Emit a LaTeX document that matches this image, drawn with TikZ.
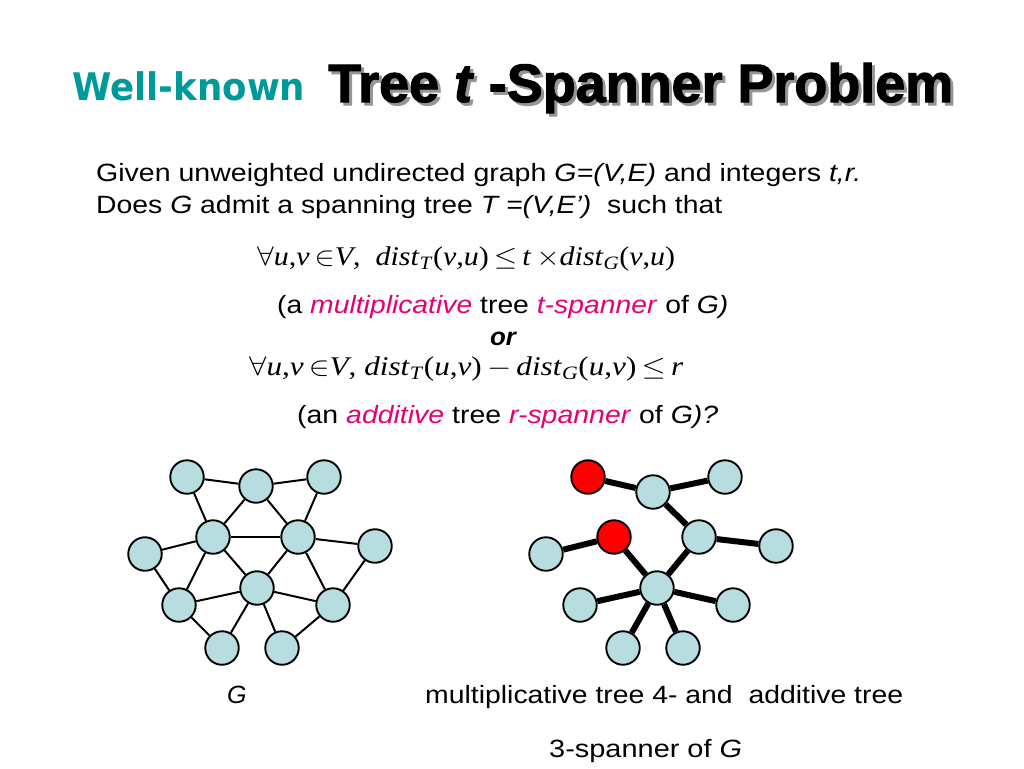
\RequirePackage{fix-cm}
\documentclass[tikz,border=0pt]{standalone}
\usepackage{fontspec}
\setmainfont{Liberation Sans}
\newfontfamily\wkfont{DejaVu Sans}
\newfontfamily\titlefont{Liberation Sans}[BoldFeatures={FakeBold=2}, BoldItalicFeatures={FakeBold=2}]
\newfontfamily\tnr{Liberation Serif}
\usepackage{graphicx}
\definecolor{wkteal}{RGB}{0,153,153}
\definecolor{mag}{RGB}{230,0,115}
\definecolor{nodeblue}{RGB}{183,221,224}
\definecolor{nodered}{RGB}{255,0,0}
\definecolor{shadowgray}{RGB}{150,150,150}
\newcommand{\hfit}[2]{\resizebox{#1}{\height}{#2}}
\newcommand{\mi}[1]{\textit{#1}}
\newcommand{\dsub}[1]{\mi{dist}\textsubscript{\mi{#1}}}
\begin{document}
\begin{tikzpicture}[x=1pt,y=-1pt,
  txt/.style={anchor=base west, inner sep=0pt, font=\fontsize{25}{30}\selectfont},
  mth/.style={anchor=base west, inner sep=0pt, font=\tnr\fontsize{27}{30}\selectfont},
  vtx/.style={circle, draw=black, line width=1.9pt, fill=nodeblue, minimum size=33.5pt, inner sep=0pt},
  rvtx/.style={vtx, fill=nodered},
  gedge/.style={draw=black, line width=2pt},
  tedge/.style={draw=black, line width=6pt}]
\useasboundingbox[fill=white] (0,0) rectangle (1024,768);

% Title
\node[anchor=base west, inner sep=0pt, text=wkteal, font=\wkfont\bfseries\fontsize{38}{40}\selectfont] (wk) at (72,100) {\hfit{233pt}{Well-known}};
\node[anchor=base west, inner sep=0pt, text=shadowgray, font=\titlefont\bfseries\fontsize{54}{60}\selectfont] (titleshadow) at (331,105) {\hfit{625pt}{Tree \textit{t} -Spanner Problem}};
\node[anchor=base west, inner sep=0pt, text=black, font=\titlefont\bfseries\fontsize{54}{60}\selectfont] (title) at (328,102) {\hfit{625pt}{Tree \textit{t} -Spanner Problem}};

% Body text
\node[txt] (l1) at (96,181) {\hfit{765pt}{Given unweighted undirected graph \textit{G=(V,E)} and integers \textit{t,r.}}};
\node[txt] (l2) at (96,213) {\hfit{626pt}{Does \textit{G} admit a spanning tree \textit{T =(V,E')}\ \ such that}};
\node[mth] (f1) at (257,265) {\hfit{418pt}{$\forall$\mi{u},\mi{v}\,$\in$\mi{V},\ \ \dsub{T}(\mi{v},\mi{u})\,$\le$\,\mi{t}\,$\times$\dsub{G}(\mi{v},\mi{u})}};
\node[txt] (l3) at (277,313) {\hfit{451pt}{(a \textcolor{mag}{\textit{multiplicative}} tree \textcolor{mag}{\textit{t-spanner}} of \textit{G)}}};
\node[txt] (or) at (490,345) {\hfit{27pt}{\textbf{\textit{or}}}};
\node[mth] (f2) at (249,375) {\hfit{434pt}{$\forall$\mi{u},\mi{v}\,$\in$\mi{V},\ \dsub{T}(\mi{u},\mi{v})\,$-$\,\dsub{G}(\mi{u},\mi{v})\,$\le$\,\mi{r}}};
\node[txt] (l4) at (297,423) {\hfit{421pt}{(an \textcolor{mag}{\textit{additive}} tree \textcolor{mag}{\textit{r-spanner}} of \textit{G)?}}};

% Captions
\node[txt] (capG) at (227,703) {\textit{G}};
\node[txt] (cap1) at (425,703) {\hfit{478pt}{multiplicative tree 4- and\ \ additive tree}};
\node[txt] (cap2) at (549,757) {\hfit{193pt}{3-spanner of \textit{G}}};

% Graph G
\node[vtx] (a) at (187,477) {};
\node[vtx] (b) at (256,486) {};
\node[vtx] (c) at (324,477) {};
\node[vtx] (d) at (213,537) {};
\node[vtx] (e) at (298,537) {};
\node[vtx] (f) at (145,554) {};
\node[vtx] (g) at (375,546) {};
\node[vtx] (h) at (257,588) {};
\node[vtx] (i) at (179,605) {};
\node[vtx] (j) at (333,605) {};
\node[vtx] (k) at (222,648) {};
\node[vtx] (l) at (282,648) {};
\foreach \p/\q in {a/b,b/c,a/d,b/d,b/e,c/e,d/e,d/f,d/i,d/h,e/h,e/g,e/j,g/j,f/i,i/h,h/j,i/k,h/k,h/l,l/j}
  \draw[gedge] (\p) -- (\q);

% Spanning tree
\node[rvtx] (ta) at (588,477) {};
\node[vtx] (tb) at (653,492) {};
\node[vtx] (tc) at (725,477) {};
\node[rvtx] (td) at (614,537) {};
\node[vtx] (te) at (699,537) {};
\node[vtx] (tf) at (546,554) {};
\node[vtx] (tg) at (776,546) {};
\node[vtx] (th) at (657,588) {};
\node[vtx] (ti) at (580,605) {};
\node[vtx] (tj) at (733,605) {};
\node[vtx] (tk) at (623,648) {};
\node[vtx] (tl) at (683,648) {};
\foreach \p/\q in {ta/tb,tb/tc,tb/te,te/tg,te/th,td/tf,td/th,th/ti,th/tj,th/tk,th/tl}
  \draw[tedge] (\p) -- (\q);
\end{tikzpicture}
\end{document}
